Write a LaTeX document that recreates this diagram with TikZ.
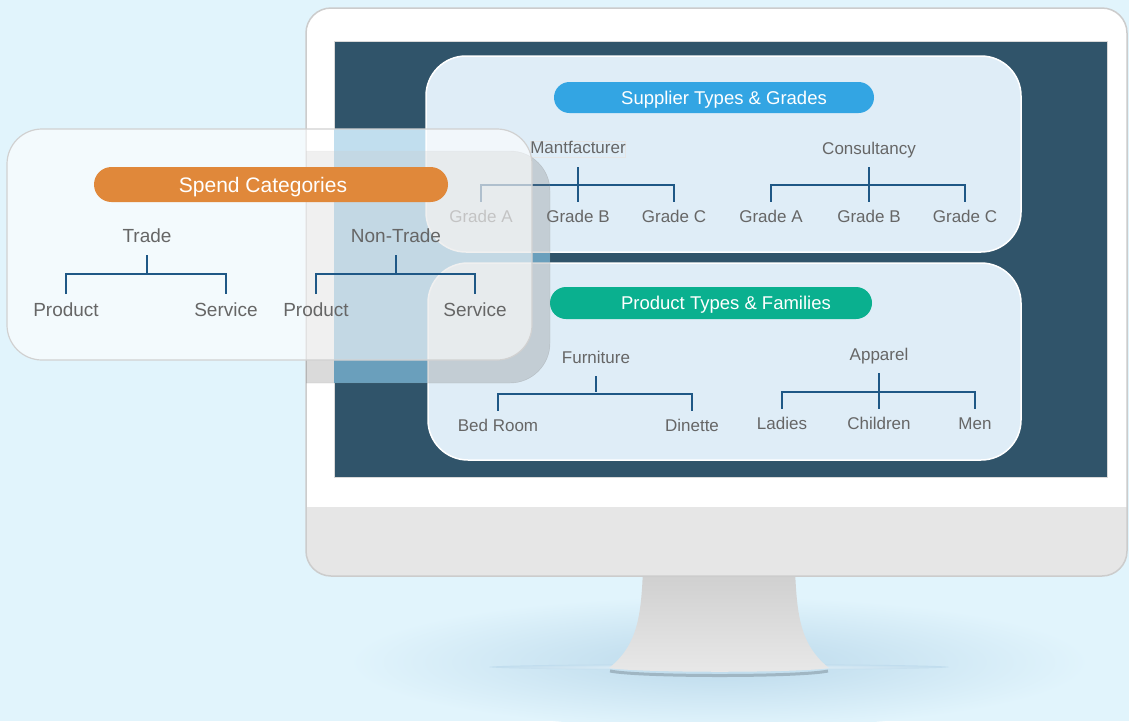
\documentclass[tikz,border=0pt]{standalone}
\usepackage{fontspec}
\setmainfont{Liberation Sans}
\usepackage{xcolor}
\definecolor{bgblue}{HTML}{E1F4FC}
\definecolor{glowblue}{HTML}{BBD9EB}
\definecolor{screenblue}{HTML}{30546A}
\definecolor{litblue}{HTML}{64AED6}
\definecolor{panelblue}{HTML}{DFEDF7}
\definecolor{chingray}{HTML}{E6E6E6}
\definecolor{shadegray}{HTML}{7B7B7B}
\definecolor{txtgray}{HTML}{666666}
\definecolor{linkblue}{HTML}{1F5886}
\definecolor{spendorange}{HTML}{E0883A}
\definecolor{supplierblue}{HTML}{33A5E3}
\definecolor{productgreen}{HTML}{0AB08F}
\tikzstyle{branch} = [draw=linkblue, line width=2pt]
\tikzstyle{panel} = [rounded corners=40, fill=panelblue, draw=white, line width=1.5pt]
\tikzstyle{pill} = [inner sep=0pt]
\tikzstyle{pilltext} = [text=white, inner sep=0pt, font=\fontsize{18.5}{22}\selectfont]
\tikzstyle{toplab} = [text=txtgray, font=\fontsize{17}{20}\selectfont, text height=12.2pt, text depth=0pt, inner xsep=0pt, inner ysep=13pt]
\tikzstyle{leaflab} = [toplab, inner ysep=8pt]
\tikzstyle{bigtop} = [text=txtgray, font=\fontsize{19}{22}\selectfont, text height=13.6pt, text depth=0pt, inner xsep=0pt, inner ysep=12pt]
\tikzstyle{bigleaf} = [bigtop, inner ysep=9pt]

\begin{document}
\begin{tikzpicture}[x=1pt,y=-1pt]
		\useasboundingbox (0,0) rectangle (1129,721);
		\clip (0,0) rectangle (1129,721);
		\fill[bgblue] (0,0) rectangle (1129,721);
		\shade[inner color=glowblue, outer color=bgblue] (719,662) ellipse [x radius=370, y radius=66];
		\shade[inner color=white!70!glowblue, outer color=glowblue!85!bgblue] (719,667) ellipse [x radius=230, y radius=3];

		\shade[top color=black!19, bottom color=black!9] (643,570) -- (795,570) .. controls (797,615) and (800,645) .. (829,668) .. controls (800,673) and (640,673) .. (609,668) .. controls (638,645) and (641,615) .. (643,570) -- cycle;
		\draw[glowblue!80!black!90, line width=3pt] (610,671) .. controls (640,677) and (800,677) .. (828,671);

		\fill[white, rounded corners=25] (306,8) rectangle (1127,576);
		\begin{scope}
			\clip[rounded corners=25] (306,8) rectangle (1127,576);
			\fill[chingray] (306,507) rectangle (1127,576);
		\end{scope}
		\draw[black!20, line width=1.5pt, rounded corners=25] (306,8) rectangle (1127,576);
		\fill[screenblue] (334,41) rectangle (1107,477);
		\draw[black!15, line width=1pt] (334,41) rectangle (1107,477);
		\fill[litblue] (334,129) rectangle (550,383);

		\draw[panel] (426,56) rectangle (1021,252);
		\node[pill, fill=supplierblue, rounded corners=15.5, minimum width=320, minimum height=31] (supplier) at (714,97.5) {};
		\node[pilltext, text height=13.3pt, text depth=0pt] at ([xshift=10]supplier.center) {Supplier Types \& Grades};
		\node[toplab, inner ysep=1pt, text height=11.5pt, text depth=3pt, draw=black!10, line width=0.6pt] (mfr) at (578,149.5) {Mantfacturer};
		\node[leaflab] (ga) at (481,216) {Grade A};
		\node[leaflab] (gb) at (578,216) {Grade B};
		\node[leaflab] (gc) at (674,216) {Grade C};
		\draw[branch] (ga.north) -- ++(0,-17) -| (gc.north);
		\draw[branch] (mfr.south) ++(0,9) -- (gb.north);
		\node[toplab] (cons) at (869,148) {Consultancy};
		\node[leaflab] (ca) at (771,216) {Grade A};
		\node[leaflab] (cb) at (869,216) {Grade B};
		\node[leaflab] (cc) at (965,216) {Grade C};
		\draw[branch] (ca.north) -- ++(0,-17) -| (cc.north);
		\draw[branch] (cons.south) -- (cb.north);

		\draw[panel] (428,263) rectangle (1021,460);
		\node[pill, fill=productgreen, rounded corners=16, minimum width=322, minimum height=32] (product) at (711,303) {};
		\node[pilltext, text height=13.3pt, text depth=0pt] at ([xshift=15]product.center) {Product Types \& Families};
		\node[toplab] (furn) at (596,357) {Furniture};
		\node[leaflab] (bed) at (498,425) {Bed Room};
		\node[leaflab] (din) at (692,425) {Dinette};
		\draw[branch] (bed.north) -- ++(0,-17) -| (din.north);
		\draw[branch] (furn.south) -- ++(0,16);
		\node[toplab] (app) at (879,354) {Apparel};
		\node[leaflab] (lad) at (782,423) {Ladies};
		\node[leaflab] (kid) at (879,423) {Children};
		\node[leaflab] (men) at (975,423) {Men};
		\draw[branch] (lad.north) -- ++(0,-17) -| (men.north);
		\draw[branch] (app.south) -- (kid.north);

		\begin{scope}
			\clip (306,0) rectangle (1129,721);
			\fill[shadegray, fill opacity=0.28, rounded corners=40] (266,151) rectangle (550,383);
			\draw[black!45, opacity=0.35, rounded corners=40] (266,151) rectangle (550,383);
		\end{scope}

		\draw[fill=white, fill opacity=0.6, draw=black!18, line width=1.2pt, rounded corners=35] (7,129) rectangle (532,360);
		\node[pill, fill=spendorange, rounded corners=17.5, minimum width=354, minimum height=35] (spend) at (271,184.5) {};
		\node[pilltext, font=\fontsize{21}{25}\selectfont, text height=15pt, text depth=0pt] at ([xshift=-8]spend.center) {Spend Categories};
		\node[bigtop] (trade) at (147,236) {Trade};
		\node[bigleaf] (tprod) at (66,310) {Product};
		\node[bigleaf] (tserv) at (226,310) {Service};
		\draw[branch] (tprod.north) -- ++(0,-20) -| (tserv.north);
		\draw[branch] (trade.south) -- ++(0,19);
		\node[bigtop] (ntrade) at (396,236) {Non-Trade};
		\node[bigleaf] (nprod) at (316,310) {Product};
		\node[bigleaf] (nserv) at (475,310) {Service};
		\draw[branch] (nprod.north) -- ++(0,-20) -| (nserv.north);
		\draw[branch] (ntrade.south) -- ++(0,19);
	\end{tikzpicture}
\end{document}
